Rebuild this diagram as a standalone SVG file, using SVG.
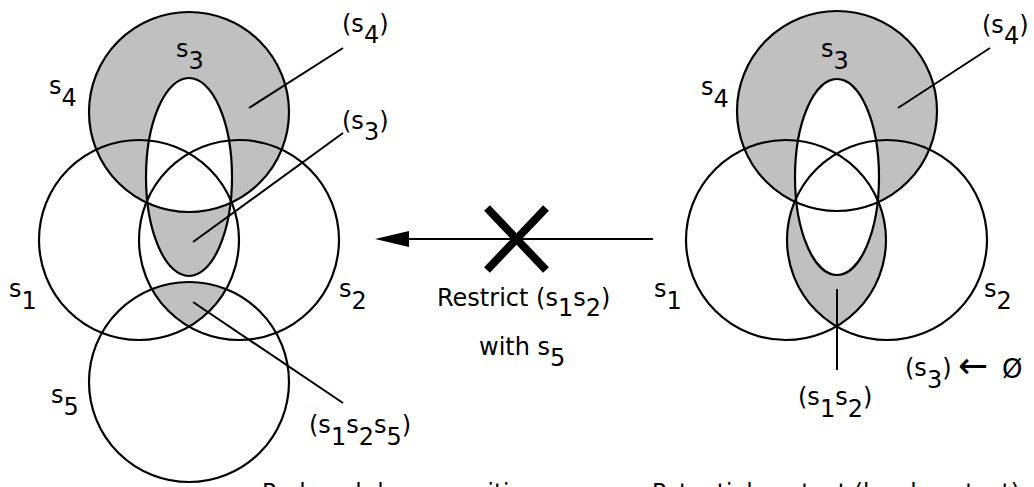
<svg xmlns="http://www.w3.org/2000/svg" width="1034" height="487" viewBox="0 0 1034 487">
<style>
  text { font-family: "DejaVu Sans", "Liberation Sans", sans-serif; font-size: 24px; fill: #000; }
  .cap { font-size: 23px; }
  .o { fill: none; stroke: #000; stroke-width: 2.2; }
  .lead { stroke: #000; stroke-width: 2; fill: none; }
  .g { fill: #c0c0c0; }
</style>
<defs>
  <clipPath id="cS1L"><circle cx="139" cy="240" r="100"/></clipPath>
  <clipPath id="cS2L"><circle cx="239" cy="240" r="100"/></clipPath>
  <clipPath id="cS1R"><circle cx="786" cy="240" r="100"/></clipPath>
  <mask id="mR" maskUnits="userSpaceOnUse" x="0" y="0" width="1034" height="487">
    <circle cx="837" cy="111" r="100" fill="#fff"/>
    <g clip-path="url(#cS1R)"><circle cx="887" cy="240" r="100" fill="#fff"/></g>
    <ellipse cx="837" cy="177" rx="42" ry="98" fill="#000"/>
  </mask>
</defs>

<g id="left-diagram">
  <g id="left-fills">
    <path class="g" fill-rule="evenodd" d="M89,112 a100,100 0 1,0 200,0 a100,100 0 1,0 -200,0 Z M146,177 a43,99 0 1,0 86,0 a43,99 0 1,0 -86,0 Z"/>
    <g clip-path="url(#cS1L)"><circle class="g" cx="189" cy="382" r="100" clip-path="url(#cS2L)"/></g>
  </g>
  <g id="L-s4"><circle class="o" cx="189" cy="112" r="100"/><text x="49" y="94">s<tspan dy="12">4</tspan></text></g>
  <g id="L-s3"><ellipse class="o" cx="189" cy="177" rx="43" ry="99"/><text x="176" y="57">s<tspan dy="12">3</tspan></text></g>
  <g id="L-s1"><circle class="o" cx="139" cy="240" r="100"/><text x="9" y="297">s<tspan dy="12">1</tspan></text></g>
  <g id="L-s2"><circle class="o" cx="239" cy="240" r="100"/><text x="339" y="297">s<tspan dy="12">2</tspan></text></g>
  <g id="L-s5"><circle class="o" cx="189" cy="382" r="100"/><text x="51" y="403">s<tspan dy="12">5</tspan></text></g>
  <g id="L-labels">
    <line class="lead" x1="249" y1="108" x2="343" y2="48"/>
    <text x="342" y="32">(s<tspan dy="11">4</tspan><tspan dy="-11">)</tspan></text>
    <line class="lead" x1="193" y1="242" x2="343" y2="133"/>
    <text x="342" y="129">(s<tspan dy="11">3</tspan><tspan dy="-11">)</tspan></text>
    <line class="lead" x1="193" y1="302" x2="343" y2="403"/>
    <text x="309" y="433">(s<tspan dy="12">1</tspan><tspan dy="-12">s</tspan><tspan dy="12">2</tspan><tspan dy="-12">s</tspan><tspan dy="12">5</tspan><tspan dy="-12">)</tspan></text>
  </g>
</g>

<g id="connectors">
  <line x1="653" y1="239" x2="405" y2="239" stroke="#000" stroke-width="2.2"/>
  <polygon points="375,239 409,231 409,247" fill="#000"/>
  <line x1="487" y1="208" x2="546" y2="270" stroke="#000" stroke-width="8"/>
  <line x1="546" y1="208" x2="487" y2="270" stroke="#000" stroke-width="8"/>
  <text x="437" y="306">Restrict (s<tspan dy="10">1</tspan><tspan dy="-10">s</tspan><tspan dy="10">2</tspan><tspan dy="-10">)</tspan></text>
  <text x="479" y="355">with s<tspan dy="11">5</tspan></text>
</g>

<g id="right-diagram">
  <rect id="right-fill" x="600" y="0" width="434" height="487" class="g" mask="url(#mR)"/>
  <g id="R-s4"><circle class="o" cx="837" cy="111" r="100"/><text x="701" y="95">s<tspan dy="12">4</tspan></text></g>
  <g id="R-s3"><ellipse class="o" cx="837" cy="177" rx="42" ry="98"/><text x="821" y="57">s<tspan dy="12">3</tspan></text></g>
  <g id="R-s1"><circle class="o" cx="786" cy="240" r="100"/><text x="654" y="297">s<tspan dy="12">1</tspan></text></g>
  <g id="R-s2"><circle class="o" cx="887" cy="240" r="100"/><text x="984" y="297">s<tspan dy="12">2</tspan></text></g>
  <g id="R-labels">
    <line class="lead" x1="837" y1="289" x2="837" y2="370"/>
    <line class="lead" x1="898" y1="108" x2="990" y2="48"/>
    <text x="982" y="33">(s<tspan dy="11">4</tspan><tspan dy="-11">)</tspan></text>
    <text x="798" y="405">(s<tspan dy="12">1</tspan><tspan dy="-12">s</tspan><tspan dy="12">2</tspan><tspan dy="-12">)</tspan></text>
    <text x="905" y="376">(s<tspan dy="12">3</tspan><tspan dy="-12">)</tspan></text>
    <text x="958" y="378" style="font-size:36px">←</text>
    <text x="1002" y="378" style="font-size:26px">Ø</text>
  </g>
</g>

<g id="captions">
  <text class="cap" x="262" y="500">Reduced decomposition</text>
  <text class="cap" x="652" y="500">Potential context (local context)</text>
</g>
</svg>
